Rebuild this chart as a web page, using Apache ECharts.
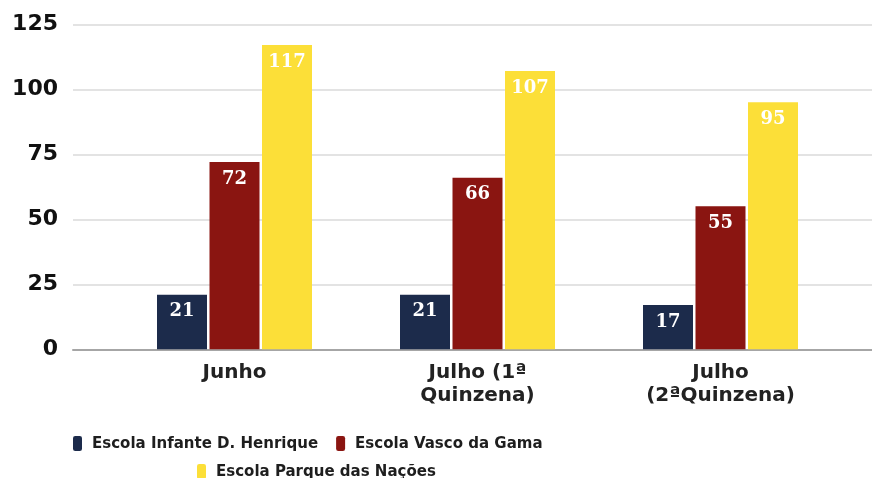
<!DOCTYPE html>
<html><head><meta charset="utf-8">
<script src="https://cdn.jsdelivr.net/npm/echarts@6/dist/echarts.min.js"></script>
<style>html,body{margin:0;padding:0;background:#fff}#c{width:872px;height:478px}</style>
</head><body><div id="c"></div>
<script>
const categories = ['Junho', 'Julho (1ª\nQuinzena)', 'Julho\n(2ªQuinzena)'];
const seriesNames = ['Escola Infante D. Henrique', 'Escola Vasco da Gama', 'Escola Parque das Nações'];
const infante = [21, 21, 17];
const vasco = [72, 66, 55];
const parque = [117, 107, 95];
const yTicks = { min: 0, max: 125, interval: 25 };
const colors = ['#1c2b4b', '#8a1511', '#fcdf38'];

const chart = echarts.init(document.getElementById('c'));
const gridTop = 24.3, gridBottom = 478 - 349.3;
function barSeries(name, data, color) {
  return {
    name: name, type: 'bar', xAxisIndex: 1, yAxisIndex: 1, data: data,
    barWidth: 50, barGap: '5%',
    itemStyle: { color: color },
    label: { show: true, position: 'insideTop', distance: 8, color: '#fff',
      fontFamily: 'DejaVu Serif', fontWeight: 'bold', fontSize: 18 }
  };
}
const legendText = { color: '#1e1e1e', fontFamily: 'DejaVu Sans Condensed', fontWeight: 'bold', fontSize: 16.7, padding: [0, 0, 0, 5] };
chart.setOption({
  animation: false,
  color: colors,
  grid: [
    { left: 73, right: 0, top: gridTop, bottom: gridBottom },
    { left: 113, right: 30, top: gridTop, bottom: gridBottom }
  ],
  xAxis: [
    { type: 'value', gridIndex: 0, min: 0, max: 1, axisLine: { show: true, lineStyle: { color: '#a6a6a6', width: 2 } },
      axisTick: { show: false }, axisLabel: { show: false }, splitLine: { show: false } },
    { type: 'category', gridIndex: 1, data: categories, axisLine: { show: false }, axisTick: { show: false },
      axisLabel: { color: '#222', fontFamily: 'DejaVu Sans', fontWeight: 'bold', fontSize: 20, lineHeight: 23, margin: 12 } }
  ],
  yAxis: [
    { type: 'value', gridIndex: 0, min: yTicks.min, max: yTicks.max, interval: yTicks.interval,
      axisLine: { show: false }, axisTick: { show: false },
      axisLabel: { color: '#111', fontFamily: 'DejaVu Sans', fontWeight: 'bold', fontSize: 22, margin: 15 },
      splitLine: { lineStyle: { color: '#e3e3e3', width: 2 } } },
    { type: 'value', gridIndex: 1, min: yTicks.min, max: yTicks.max, interval: yTicks.interval, show: false,
      splitLine: { show: false } }
  ],
  legend: [
    { data: [seriesNames[0], seriesNames[1]], left: 68, top: 430, itemWidth: 9, itemHeight: 15, itemGap: 18,
      icon: 'roundRect', textStyle: legendText },
    { data: [seriesNames[2]], left: 192, top: 458, itemWidth: 9, itemHeight: 15, icon: 'roundRect',
      textStyle: legendText }
  ],
  series: [
    barSeries(seriesNames[0], infante, colors[0]),
    barSeries(seriesNames[1], vasco, colors[1]),
    barSeries(seriesNames[2], parque, colors[2])
  ]
});
</script></body></html>
